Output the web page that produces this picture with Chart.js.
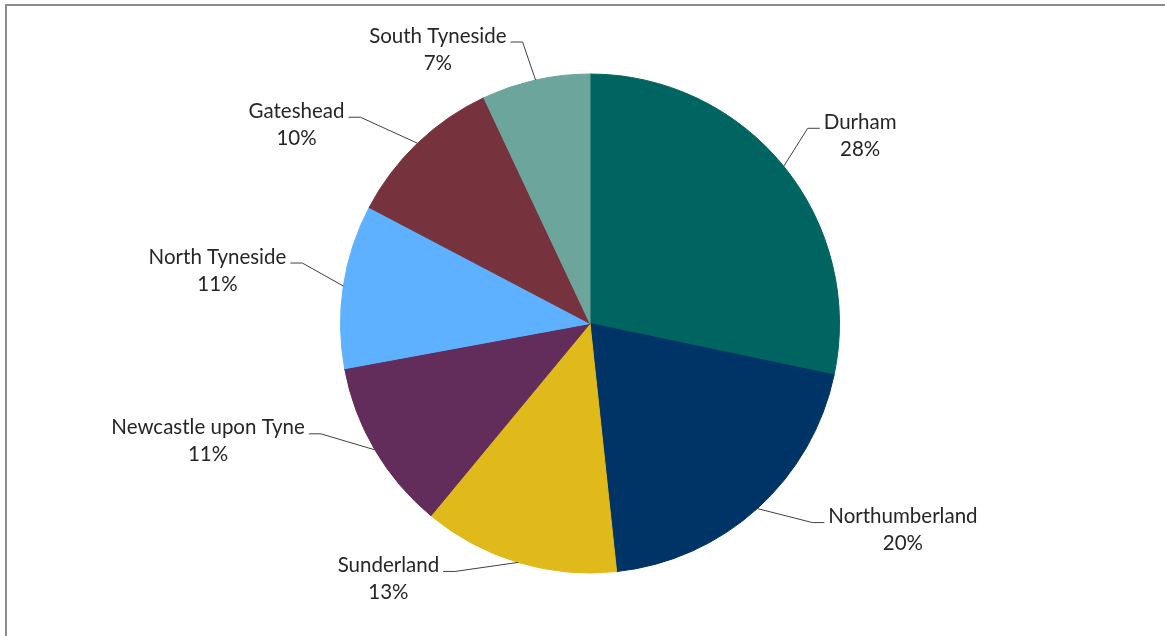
<!DOCTYPE html>
<html>
<head>
<meta charset="utf-8">
<script src="https://cdn.jsdelivr.net/npm/chart.js@4.4.1/dist/chart.umd.min.js"></script>
<style>
  html, body { margin: 0; padding: 0; background: #fff; }
  canvas { display: block; }
</style>
</head>
<body>
<canvas id="areaPie" width="1165" height="636"></canvas>
<script>
const areas = ["Durham", "Northumberland", "Sunderland", "Newcastle upon Tyne", "North Tyneside", "Gateshead", "South Tyneside"];
const shares = [28.3, 20.0, 12.7, 11.1, 10.6, 10.3, 7.0];
const sliceColors = ["#006461", "#003366", "#e0b91a", "#632d5b", "#5eb1ff", "#77333d", "#6ba59c"];

// where each leader line bends, measured from the point on the rim
const elbowOffsets = [[24, -38], [55, 14], [-63, 9], [-54, -16], [-41, -23], [-57, -26], [-13, -38]];

// grey frame along the top and left edges
const framePlugin = {
  id: "frame",
  beforeDraw(chart) {
    const ctx = chart.ctx;
    ctx.save();
    ctx.fillStyle = "#fff";
    ctx.fillRect(0, 0, chart.width, chart.height);
    ctx.strokeStyle = "#8c8c8c";
    ctx.lineWidth = 2;
    ctx.beginPath();
    ctx.moveTo(6, chart.height + 2);
    ctx.lineTo(6, 5);
    ctx.lineTo(chart.width + 2, 5);
    ctx.stroke();
    ctx.restore();
  }
};

// category name + percentage outside each slice, joined by a leader line
const calloutPlugin = {
  id: "callouts",
  afterDatasetsDraw(chart) {
    const ctx = chart.ctx;
    const meta = chart.getDatasetMeta(0);
    const total = shares.reduce((a, b) => a + b, 0);
    ctx.save();
    ctx.font = "20.5px Lato";
    ctx.fillStyle = "#262626";
    ctx.strokeStyle = "#404040";
    ctx.lineWidth = 1;
    ctx.textBaseline = "middle";
    ctx.textAlign = "center";
    meta.data.forEach((arc, i) => {
      const p = arc.getProps(["x", "y", "startAngle", "endAngle", "outerRadius"], true);
      const mid = (p.startAngle + p.endAngle) / 2;
      const ax = p.x + Math.cos(mid) * p.outerRadius;
      const ay = p.y + Math.sin(mid) * p.outerRadius;
      const ex = ax + elbowOffsets[i][0];
      const ey = ay + elbowOffsets[i][1];
      const right = elbowOffsets[i][0] > 0;
      const tx = right ? ex + 12 : ex - 12;
      ctx.beginPath();
      ctx.moveTo(ax, ay);
      ctx.lineTo(ex, ey);
      ctx.lineTo(tx, ey);
      ctx.stroke();
      const pct = Math.round(shares[i] / total * 100) + "%";
      const w = Math.max(ctx.measureText(areas[i]).width, ctx.measureText(pct).width);
      const cx = right ? tx + 4 + w / 2 : tx - 4 - w / 2;
      const cy = ey - 6;
      ctx.fillText(areas[i], cx, cy);
      ctx.fillText(pct, cx, cy + 27);
    });
    ctx.restore();
  }
};

new Chart(document.getElementById("areaPie").getContext("2d"), {
  type: "pie",
  data: {
    labels: areas,
    datasets: [
      {
        data: shares,
        backgroundColor: sliceColors,
        borderColor: sliceColors,
        borderWidth: 1,
      },
    ],
  },
  options: {
    responsive: false,
    animation: false,
    layout: {
      padding: { left: 340, right: 325, top: 73, bottom: 62 },
    },
    plugins: {
      legend: { display: false },
      tooltip: { enabled: false },
    },
  },
  plugins: [framePlugin, calloutPlugin],
});
</script>
</body>
</html>
